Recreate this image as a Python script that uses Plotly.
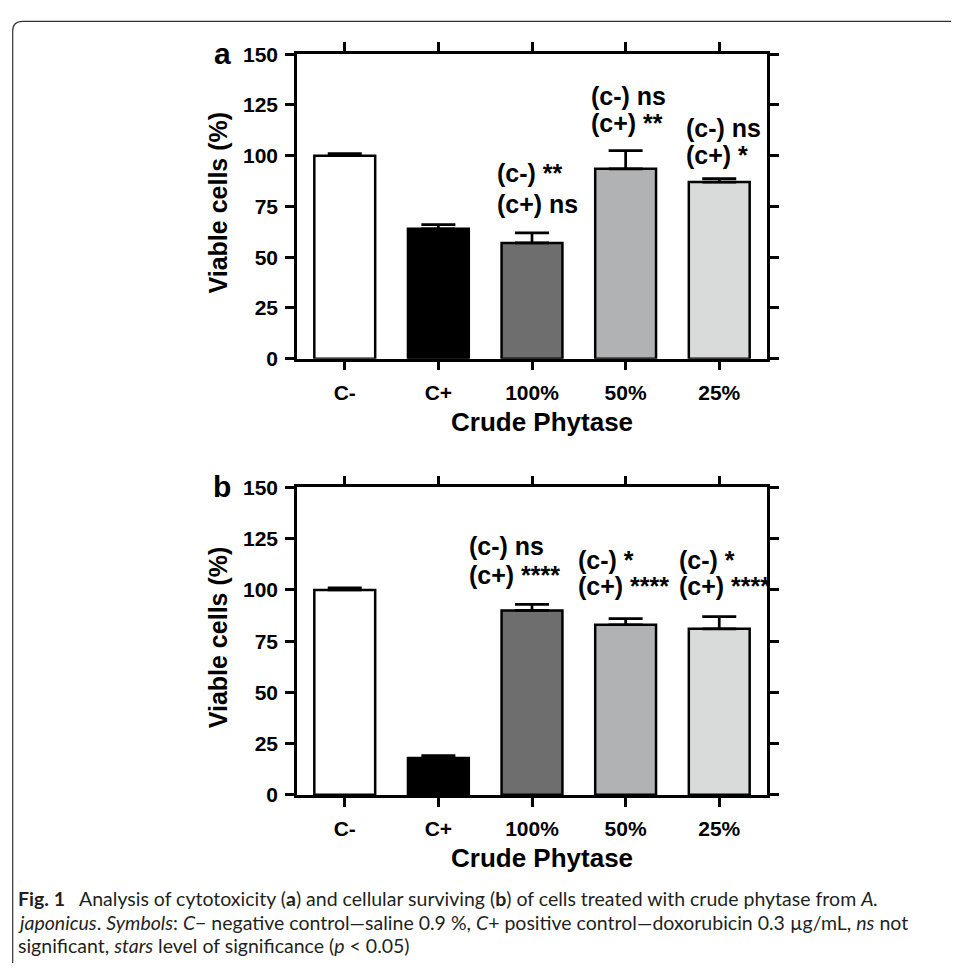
import plotly.graph_objects as go

# ---------------- data ----------------
categories = ["C-", "C+", "100%", "50%", "25%"]
bar_colors = ["#ffffff", "#000000", "#6e6e6e", "#b1b2b3", "#d9dbda"]

a_values = [100, 64, 57, 93.5, 87]
a_errors = [1, 2, 5, 9, 1.7]

b_values = [100, 18, 90, 83, 81]
b_errors = [1, 1.2, 3, 3, 6]

a_sig_cneg = ["", "", "(c-) **", "(c-) ns", "(c-) ns"]
a_sig_cpos = ["", "", "(c+) ns", "(c+) **", "(c+) *"]
b_sig_cneg = ["", "", "(c-) ns", "(c-) *", "(c-) *"]
b_sig_cpos = ["", "", "(c+) ****", "(c+) ****", "(c+) ****"]

y_ticks = [0, 25, 50, 75, 100, 125, 150]
x_title = "Crude Phytase"
y_title = "Viable cells (%)"

# ---------------- layout helpers ----------------
PAGE_W, PAGE_H = 959, 971
OFF = 8                       # default body margin of the page
W, H = PAGE_W - 2 * OFF, PAGE_H - 2 * OFF
def px(x):                    # page pixel -> paper fraction
    return (x - OFF) / W
def py(y):
    return 1 - (y - OFF) / H

FONT = "Liberation Sans, Arial, Helvetica, sans-serif"
AX_W = 2.5

fig = go.Figure()

panels = [
    dict(vals=a_values, errs=a_errors, neg=a_sig_cneg, pos=a_sig_cpos,
         xa="x", ya="y", top=43, bot=355, label="a",
         neg_pos=[None, None, (-0.39, 91.3), (-0.39, 129.6), (-0.38, 113.7)],
         pos_pos=[None, None, (-0.39, 76.4), (-0.39, 116.3), (-0.38, 100.2)]),
    dict(vals=b_values, errs=b_errors, neg=b_sig_cneg, pos=b_sig_cpos,
         xa="x2", ya="y2", top=487, bot=802, label="b",
         neg_pos=[None, None, (-0.69, 121.4), (-0.53, 114.8), (-0.45, 114.8)],
         pos_pos=[None, None, (-0.69, 107.1), (-0.53, 101.9), (-0.45, 101.9)]),
]

annotations = []
for i, p in enumerate(panels):
    fig.add_trace(go.Bar(
        x=list(range(len(categories))), y=p["vals"],
        marker=dict(color=bar_colors, line=dict(color="black", width=2.5)),
        width=0.65,
        error_y=dict(type="data", array=p["errs"], arrayminus=[0]*len(p["errs"]),
                     symmetric=False, color="black", thickness=2.7, width=17),
        xaxis=p["xa"], yaxis=p["ya"], showlegend=False,
    ))
    sfx = "" if i == 0 else "2"
    axis_common = dict(showline=True, linecolor="black", linewidth=AX_W,
                       mirror="ticks", ticks="outside", ticklen=9, tickwidth=AX_W,
                       tickcolor="black", showgrid=False, zeroline=False,
                       tickfont=dict(family=FONT, size=21, color="black", weight="bold"))
    fig.update_layout(**{
        "xaxis" + sfx: dict(domain=[px(297), px(767)], range=[-0.51, 4.51],
                            tickvals=list(range(len(categories))), ticktext=categories,
                            anchor="y" + sfx, ticklabelstandoff=4, **axis_common),
        "yaxis" + sfx: dict(domain=[py(p["bot"]), py(p["top"])], range=[0, 150],
                            tickvals=y_ticks, anchor="x" + sfx, ticklabelstandoff=3,
                            **axis_common),
    })
    for k in range(len(categories)):
        for txt, pos in ((p["neg"][k], p["neg_pos"][k]), (p["pos"][k], p["pos_pos"][k])):
            if txt and pos:
                annotations.append(dict(
                    x=k + pos[0], y=pos[1], xref=p["xa"], yref=p["ya"], text=txt,
                    showarrow=False, xanchor="left", yanchor="middle",
                    font=dict(family=FONT, size=25, color="black", weight="bold")))
    annotations.append(dict(x=px(218), y=py((p["top"] + p["bot"]) / 2 - 4), xref="paper",
                            yref="paper", text=y_title, textangle=-90, showarrow=False,
                            xanchor="center", yanchor="middle",
                            font=dict(family=FONT, size=25, color="black", weight="bold")))
    annotations.append(dict(x=px(542), y=py(p["bot"] + 65), xref="paper", yref="paper",
                            text=x_title, showarrow=False, xanchor="center",
                            yanchor="middle",
                            font=dict(family=FONT, size=26, color="black", weight="bold")))
    annotations.append(dict(x=px(222), y=py(p["top"] - 1), xref="paper", yref="paper",
                            text=p["label"], showarrow=False, xanchor="center",
                            yanchor="middle",
                            font=dict(family=FONT, size=30, color="black", weight="bold")))

caption_lines = [
    "<b>Fig. 1</b>\u2002 Analysis of cytotoxicity (<b>a</b>) and cellular surviving (<b>b</b>) "
    "of cells treated with crude phytase from <i>A.</i>",
    "<i>japonicus</i>. <i>Symbols</i>: <i>C</i>\u2212 negative control\u2014saline 0.9 %, "
    "<i>C</i>+ positive control\u2014doxorubicin 0.3 \u00b5g/mL, <i>ns</i> not",
    "significant, <i>stars</i> level of significance (<i>p</i> &lt; 0.05)",
]
cap_y = [908, 933, 956]
for line, yy in zip(caption_lines, cap_y):
    annotations.append(dict(x=px(16), y=py(yy), xref="paper", yref="paper", text=line,
                            showarrow=False, xanchor="left", yanchor="middle",
                            font=dict(family="Lato, Noto Sans, sans-serif", size=19.5,
                                      color="#231f20")))

# frame with rounded top-left corner
fx, fy, r = 12.7, 9.5, 10
frame_path = (f"M {px(fx)},{py(PAGE_H + 5)} L {px(fx)},{py(fy + r)} "
              f"Q {px(fx)},{py(fy)} {px(fx + r)},{py(fy)} L {px(PAGE_W + 5)},{py(fy)}")

fig.update_layout(
    width=W, height=H, margin=dict(l=0, r=0, t=0, b=0),
    paper_bgcolor="white", plot_bgcolor="white",
    annotations=annotations,
    shapes=[dict(type="path", path=frame_path, xref="paper", yref="paper",
                 line=dict(color="#333333", width=1.2))],
)

fig.write_html("out.html", config={"displayModeBar": False})
